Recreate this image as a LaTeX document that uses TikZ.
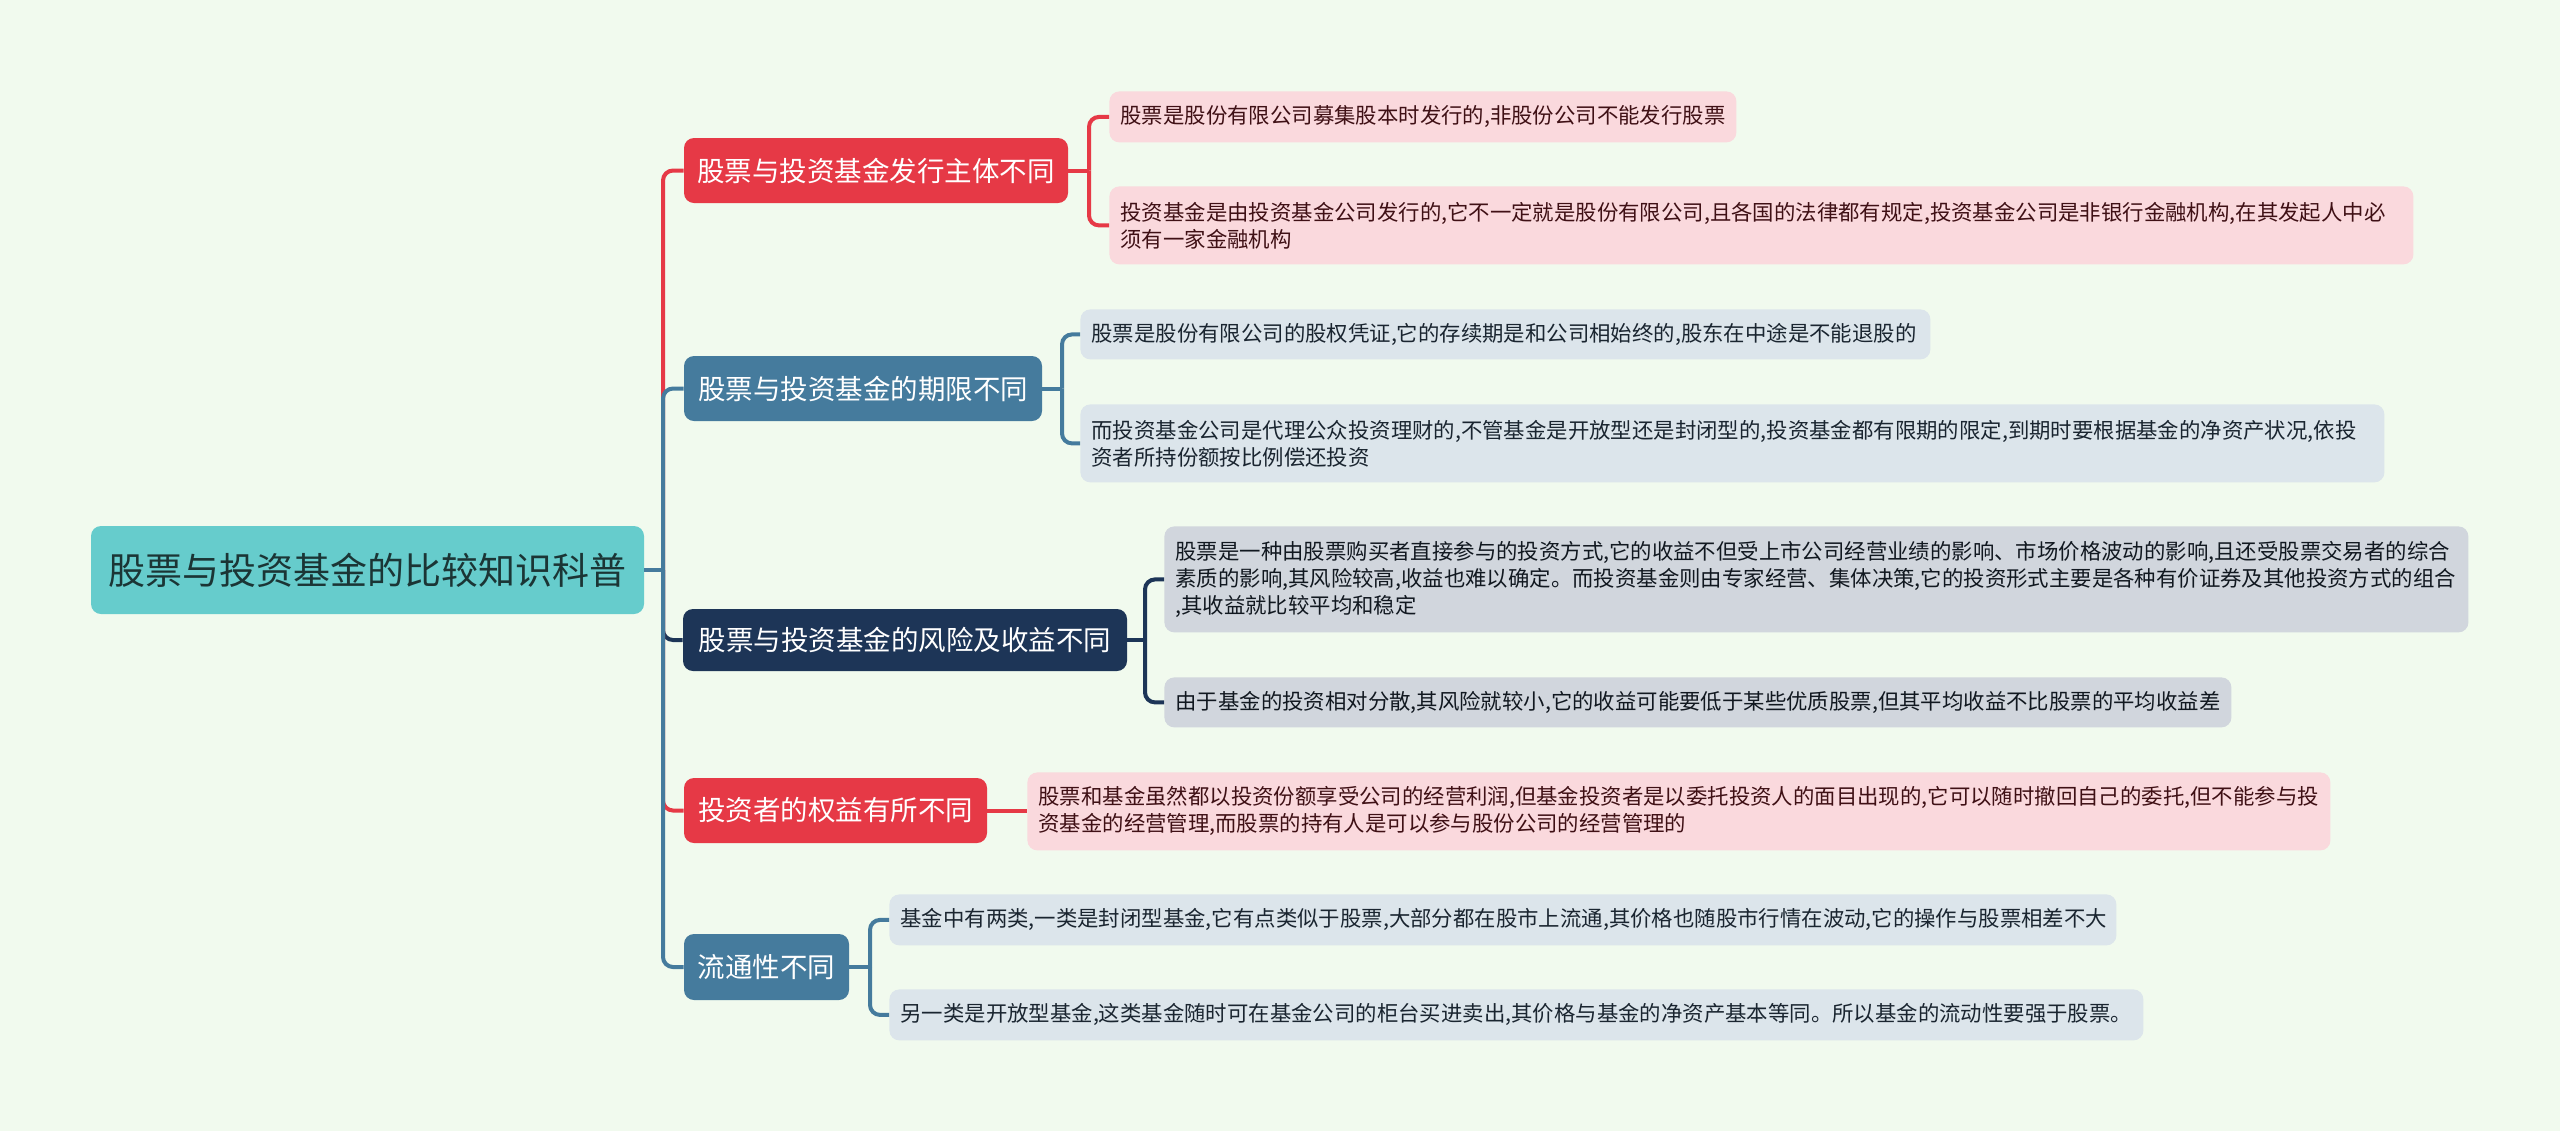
\documentclass[tikz,border=0pt]{standalone}
\usepackage{fontspec}
\newfontfamily\cjk{Noto Sans CJK SC}
\definecolor{bgc}{HTML}{F1FAEE}
\definecolor{redc}{HTML}{E63946}
\definecolor{steelc}{HTML}{457B9D}
\definecolor{navyc}{HTML}{1D3557}
\definecolor{rootc}{HTML}{66CCCC}
\definecolor{roottext}{HTML}{1B3535}
\definecolor{pinkleaf}{HTML}{FAD9DD}
\definecolor{pinktext}{HTML}{3F1015}
\definecolor{blueleaf}{HTML}{DCE5EB}
\definecolor{bluetext}{HTML}{1A2530}
\definecolor{grayleaf}{HTML}{D1D6DD}
\definecolor{graytext}{HTML}{111820}
\tikzset{
  rootbox/.style={fill=rootc, rounded corners=5pt, minimum width=276.5pt, minimum height=44pt,
    font=\cjk\fontsize{18.5}{22}\selectfont, text=roottext, inner sep=0pt},
  lvlbox/.style={rounded corners=5pt, text=white, font=\cjk\fontsize{13.75}{16}\selectfont,
    inner sep=0pt, minimum height=32.5pt},
  leafbox/.style={rounded corners=5pt, anchor=north west, align=left, inner xsep=5.5pt,
    inner ysep=0pt, font=\cjk\fontsize{10.7}{13.5}\selectfont},
  pinkbox/.style={leafbox, fill=pinkleaf, text=pinktext},
  bluebox/.style={leafbox, fill=blueleaf, text=bluetext},
  graybox/.style={leafbox, fill=grayleaf, text=graytext},
  conn/.style={line width=2pt, rounded corners=5pt},
}
\begin{document}
\begin{tikzpicture}[x=0.5pt,y=-0.5pt]
\fill[bgc] (0,0) rectangle (2560,1131);
\useasboundingbox (0,0) rectangle (2560,1131);

% root
\node[rootbox] (root) at (367.5,570) {股票与投资基金的比较知识科普};

% level 1
\node[lvlbox, fill=redc, minimum width=192pt] (n1) at (876,170.5) {股票与投资基金发行主体不同};
\node[lvlbox, fill=steelc, minimum width=179pt] (n2) at (863,388.5) {股票与投资基金的期限不同};
\node[lvlbox, fill=navyc, minimum width=222pt, minimum height=31pt] (n3) at (905,640) {股票与投资基金的风险及收益不同};
\node[lvlbox, fill=redc, minimum width=151.5pt] (n4) at (835.5,810.5) {投资者的权益有所不同};
\node[lvlbox, fill=steelc, minimum width=82.5pt, minimum height=33pt] (n5) at (766.5,967) {流通性不同};

% leaves
\node[pinkbox, text width=302.5pt, minimum height=25.5pt] (l1a) at (1109,91) {股票是股份有限公司募集股本时发行的,非股份公司不能发行股票};
\node[pinkbox, text width=641pt, minimum height=39pt] (l1b) at (1109,186) {投资基金是由投资基金公司发行的,它不一定就是股份有限公司,且各国的法律都有规定,投资基金公司是非银行金融机构,在其发起人中必\\须有一家金融机构};

\node[bluebox, text width=414pt, minimum height=25pt] (l2a) at (1080,309) {股票是股份有限公司的股权凭证,它的存续期是和公司相始终的,股东在中途是不能退股的};
\node[bluebox, text width=641pt, minimum height=39pt] (l2b) at (1080,404) {而投资基金公司是代理公众投资理财的,不管基金是开放型还是封闭型的,投资基金都有限期的限定,到期时要根据基金的净资产状况,依投\\资者所持份额按比例偿还投资};

\node[graybox, text width=641pt, minimum height=53pt] (l3a) at (1164,526) {股票是一种由股票购买者直接参与的投资方式,它的收益不但受上市公司经营业绩的影响、市场价格波动的影响,且还受股票交易者的综合\\素质的影响,其风险较高,收益也难以确定。而投资基金则由专家经营、集体决策,它的投资形式主要是各种有价证券及其他投资方式的组合\\,其收益就比较平均和稳定};
\node[graybox, text width=522.5pt, minimum height=25pt] (l3b) at (1164,677) {由于基金的投资相对分散,其风险就较小,它的收益可能要低于某些优质股票,但其平均收益不比股票的平均收益差};

\node[pinkbox, text width=640.5pt, minimum height=39pt] (l4a) at (1027,772) {股票和基金虽然都以投资份额享受公司的经营利润,但基金投资者是以委托投资人的面目出现的,它可以随时撤回自己的委托,但不能参与投\\资基金的经营管理,而股票的持有人是可以参与股份公司的经营管理的};

\node[bluebox, text width=602.5pt, minimum height=25.5pt] (l5a) at (889,894) {基金中有两类,一类是封闭型基金,它有点类似于股票,大部分都在股市上流通,其价格也随股市行情在波动,它的操作与股票相差不大};
\node[bluebox, text width=616pt, minimum height=25.5pt] (l5b) at (889,989) {另一类是开放型基金,这类基金随时可在基金公司的柜台买进卖出,其价格与基金的净资产基本等同。所以基金的流动性要强于股票。};

% trunk connectors
\coordinate (tr) at (663,570);
\draw[conn, steelc] (root.east) -- (tr);
\draw[conn, redc] (tr) |- (n1.west);
\draw[conn, navyc] (tr) |- (n3.west);
\draw[conn, redc] (tr) |- (n4.west);
\draw[conn, steelc] (tr) |- (n2.west);
\draw[conn, steelc] (tr) |- (n5.west);

% branch 1
\coordinate (b1) at (1089,170.5);
\draw[conn, redc] (n1.east) -- (b1);
\draw[conn, redc] (b1) |- (l1a.west);
\draw[conn, redc] (b1) |- (l1b.west);
% branch 2
\coordinate (b2) at (1062,388.5);
\draw[conn, steelc] (n2.east) -- (b2);
\draw[conn, steelc] (b2) |- (l2a.west);
\draw[conn, steelc] (b2) |- (l2b.west);
% branch 3
\coordinate (b3) at (1145,640);
\draw[conn, navyc] (n3.east) -- (b3);
\draw[conn, navyc] (b3) |- (l3a.west);
\draw[conn, navyc] (b3) |- (l3b.west);
% branch 4
\draw[conn, redc] (n4.east) -- (l4a.west |- n4.east);
% branch 5
\coordinate (b5) at (870,967);
\draw[conn, steelc] (n5.east) -- (b5);
\draw[conn, steelc] (b5) |- (l5a.west);
\draw[conn, steelc] (b5) |- (l5b.west);
\end{tikzpicture}
\end{document}
